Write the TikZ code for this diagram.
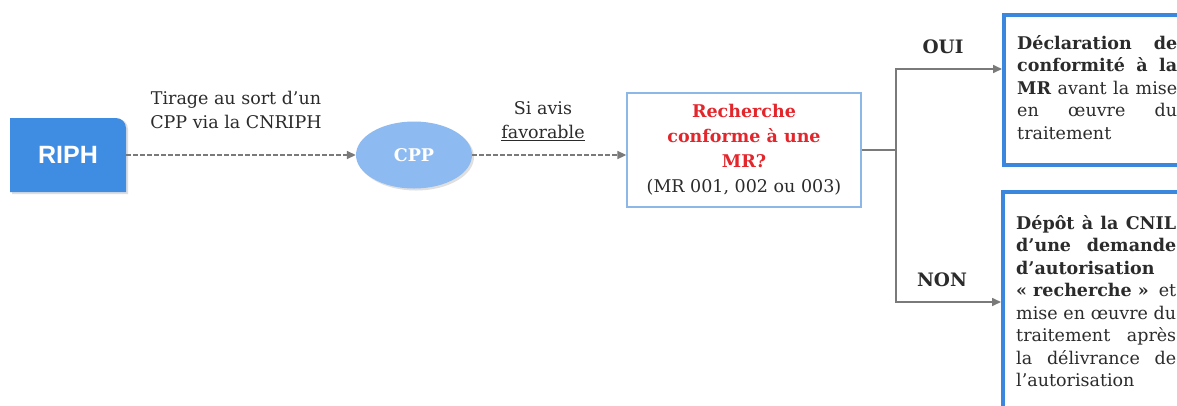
\documentclass[tikz,border=0pt]{standalone}
\usepackage{fontspec}
\setmainfont{DejaVu Serif}
\newfontfamily\sansb{Liberation Sans}
\usetikzlibrary{arrows.meta,shapes.geometric,shadows}
\definecolor{riphblue}{HTML}{3F8DE3}
\definecolor{ellblue}{HTML}{8DBAF0}
\definecolor{frameblue}{HTML}{3A87DD}
\definecolor{lightframe}{HTML}{8CB7E6}
\definecolor{arrgray}{HTML}{7A7A7A}
\definecolor{txt}{HTML}{2B2B2B}
\definecolor{redtxt}{HTML}{E3262B}
\newcommand{\jl}[1]{\makebox[160pt][s]{#1}}
\begin{document}
\begin{tikzpicture}[x=1pt,y=-1pt,
  arr/.style={draw=arrgray, line width=1.6pt, -{Triangle[length=9pt,width=8pt]}},
  dasharr/.style={arr, dash pattern=on 4.5pt off 2.5pt},
  lbl/.style={font=\fontsize{17.5}{24}\selectfont, text=txt, align=center, inner sep=0pt},
  yesno/.style={font=\fontsize{18.5}{20}\selectfont\bfseries, text=txt, inner sep=0pt},
  bigbox/.style={draw=frameblue, line width=4pt, fill=white, anchor=north west, inner sep=0pt},
  boxtext/.style={font=\fontsize{17.5}{22.5}\selectfont, text=txt, align=left, anchor=north west, inner sep=0pt},
]
\useasboundingbox (0,0) rectangle (1177,405);
\clip (0,0) rectangle (1177,405);
\fill[white] (0,0) rectangle (1177,405);

% RIPH
\fill[black!25, opacity=0.5] (12,194) -- (12,119) [rounded corners=10pt] -- (128,119) [sharp corners] -- (128,194) -- cycle;
\fill[riphblue] (10,192) -- (10,118) [rounded corners=10pt] -- (126,118) [sharp corners] -- (126,192) -- cycle;
\node[minimum width=116pt, minimum height=74pt, inner sep=0pt, text=white, font=\sansb\fontsize{25}{28}\selectfont\bfseries] (riph) at (68,155) {RIPH};

% CPP
\node[ellipse, fill=ellblue, minimum width=116pt, minimum height=67pt, inner sep=0pt,
      drop shadow={opacity=0.25, shadow xshift=2pt, shadow yshift=-2pt},
      text=white, font=\fontsize{17.5}{20}\selectfont\bfseries] (cpp) at (414,155) {CPP};

% MR box
\node[draw=lightframe, line width=1.3pt, fill=white, minimum width=234pt, minimum height=114pt, inner sep=0pt,
      align=center, font=\fontsize{17.5}{25}\selectfont, text=txt] (mr) at (744,150)
      {{\color{redtxt}\bfseries Recherche}\\{\color{redtxt}\bfseries conforme à une}\\{\color{redtxt}\bfseries MR?}\\(MR 001, 002 ou 003)\rule[-4pt]{0pt}{1pt}};

% labels
\node[lbl] (tirage) at (236,110) {Tirage au sort d'un\\CPP via la CNRIPH};
\node[lbl] (siavis) at (543,121) {Si avis\\\underline{favorable}};

% connectors
\draw[dasharr] (riph.east) -- (cpp.west);
\draw[dasharr] (cpp.east) -- (cpp.east -| mr.west);

% right boxes
\node[bigbox, minimum width=220pt, minimum height=150pt] (decl) at (1002,13) {};
\node[bigbox, minimum width=220pt, minimum height=260pt] (depot) at (1001,190) {};

\node[boxtext] (decltext) at (1017,35) {%
\jl{\bfseries Déclaration de}\\
\jl{\bfseries conformité à la}\\
\jl{\textbf{MR} avant la mise}\\
\jl{en œuvre du}\\
traitement};

\node[boxtext] (depottext) at (1016,215) {%
\jl{\bfseries Dépôt à la CNIL}\\
\jl{\bfseries d'une demande}\\
\textbf{d'autorisation}\\
\jl{\mbox{\bfseries «~recherche~»} et}\\
\jl{mise en œuvre du}\\
\jl{traitement après}\\
\jl{la délivrance de}\\
l'autorisation};

\coordinate (split) at (896,150);
\draw[draw=arrgray, line width=1.6pt] (mr.east |- split) -- (split);
\draw[arr] (split) |- ([yshift=-56pt]decl.north west);
\draw[arr] (split) |- ([yshift=-112pt]depot.north west);

\node[yesno] (oui) at (943,47) {OUI};
\node[yesno] (non) at (942,280) {NON};
\end{tikzpicture}
\end{document}
